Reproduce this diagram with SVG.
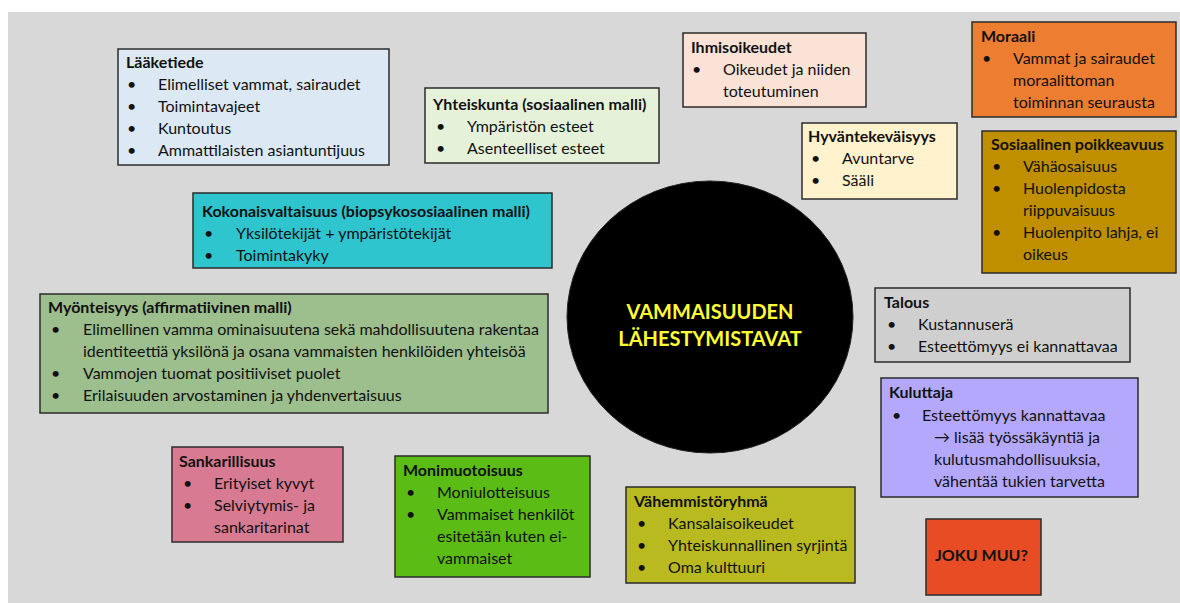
<svg xmlns="http://www.w3.org/2000/svg" width="1180" height="603" viewBox="0 0 1180 603">
<style>
text{font-family:Lato,"Liberation Sans",sans-serif;font-size:16px;fill:#111}
.t{font-weight:bold}
.box{stroke:#2b2b2b;stroke-width:1.5}
.c{font-weight:bold;font-size:20px;fill:#ffff33;text-anchor:middle}
</style>
<rect x="0" y="0" width="1180" height="603" fill="#ffffff"/>
<rect x="8" y="12" width="1172" height="591" fill="#d8d8d8"/>
<g id="connectors"></g>
<g id="laaketiede">
<rect class="box" x="118" y="49" width="271" height="116" fill="#dce9f5"/>
<text class="t" x="126" y="68">Lääketiede</text>
<text x="127" y="90">•</text><text x="158" y="90">Elimelliset vammat, sairaudet</text>
<text x="127" y="112">•</text><text x="158" y="112">Toimintavajeet</text>
<text x="127" y="134">•</text><text x="158" y="134">Kuntoutus</text>
<text x="127" y="156">•</text><text x="158" y="156">Ammattilaisten asiantuntijuus</text>
</g>
<g id="yhteiskunta">
<rect class="box" x="425" y="88" width="234" height="75" fill="#e6f1da"/>
<text class="t" x="433" y="110">Yhteiskunta (sosiaalinen malli)</text>
<text x="436" y="132">•</text><text x="467" y="132">Ympäristön esteet</text>
<text x="436" y="154">•</text><text x="467" y="154">Asenteelliset esteet</text>
</g>
<g id="ihmisoikeudet">
<rect class="box" x="683" y="33" width="183" height="74" fill="#fae2d6"/>
<text class="t" x="691" y="53">Ihmisoikeudet</text>
<text x="692" y="75">•</text><text x="723" y="75">Oikeudet ja niiden</text>
<text x="723" y="97">toteutuminen</text>
</g>
<g id="moraali">
<rect class="box" x="972" y="22" width="204" height="95" fill="#ed7d31"/>
<text class="t" x="981" y="42">Moraali</text>
<text x="982" y="64">•</text><text x="1013" y="64">Vammat ja sairaudet</text>
<text x="1013" y="86">moraalittoman</text>
<text x="1013" y="108">toiminnan seurausta</text>
</g>
<g id="hyvantekevaisyys">
<rect class="box" x="802" y="123" width="155" height="76" fill="#fff2cc"/>
<text class="t" x="808" y="142">Hyväntekeväisyys</text>
<text x="811" y="164">•</text><text x="842" y="164">Avuntarve</text>
<text x="811" y="186">•</text><text x="842" y="186">Sääli</text>
</g>
<g id="sosiaalinen-poikkeavuus">
<rect class="box" x="982" y="131" width="194" height="142" fill="#bf8f00"/>
<text class="t" x="991" y="150">Sosiaalinen poikkeavuus</text>
<text x="992" y="172">•</text><text x="1023" y="172">Vähäosaisuus</text>
<text x="992" y="194">•</text><text x="1023" y="194">Huolenpidosta</text>
<text x="1023" y="216">riippuvaisuus</text>
<text x="992" y="238">•</text><text x="1023" y="238">Huolenpito lahja, ei</text>
<text x="1023" y="260">oikeus</text>
</g>
<g id="kokonaisvaltaisuus">
<rect class="box" x="193" y="193" width="359" height="75" fill="#2ec5ce"/>
<text class="t" x="202" y="217">Kokonaisvaltaisuus (biopsykososiaalinen malli)</text>
<text x="204" y="239">•</text><text x="236" y="239">Yksilötekijät + ympäristötekijät</text>
<text x="204" y="261">•</text><text x="236" y="261">Toimintakyky</text>
</g>
<g id="myonteisyys">
<rect class="box" x="40" y="294" width="508" height="119" fill="#9dbe8d"/>
<text class="t" x="48" y="313">Myönteisyys (affirmatiivinen malli)</text>
<text x="51" y="335">•</text><text x="83" y="335">Elimellinen vamma ominaisuutena sekä mahdollisuutena rakentaa</text>
<text x="83" y="357">identiteettiä yksilönä ja osana vammaisten henkilöiden yhteisöä</text>
<text x="51" y="379">•</text><text x="83" y="379">Vammojen tuomat positiiviset puolet</text>
<text x="51" y="401">•</text><text x="83" y="401">Erilaisuuden arvostaminen ja yhdenvertaisuus</text>
</g>
<g id="keskus">
<ellipse cx="710" cy="317" rx="143" ry="136" fill="#000000" stroke="#222" stroke-width="1"/>
<text class="c" x="710" y="319">VAMMAISUUDEN</text>
<text class="c" x="710" y="346">LÄHESTYMISTAVAT</text>
</g>
<g id="talous">
<rect class="box" x="875" y="288" width="255" height="74" fill="#cfcfcf"/>
<text class="t" x="884" y="308">Talous</text>
<text x="887" y="330">•</text><text x="918" y="330">Kustannuserä</text>
<text x="887" y="352">•</text><text x="918" y="352">Esteettömyys ei kannattavaa</text>
</g>
<g id="kuluttaja">
<rect class="box" x="881" y="378" width="257" height="119" fill="#b4a8fd"/>
<text class="t" x="889" y="398">Kuluttaja</text>
<text x="892" y="421">•</text><text x="922" y="421">Esteettömyys kannattavaa</text>
<text x="934" y="443">→ lisää työssäkäyntiä ja</text>
<text x="934" y="465">kulutusmahdollisuuksia,</text>
<text x="934" y="487">vähentää tukien tarvetta</text>
</g>
<g id="sankarillisuus">
<rect class="box" x="172" y="447" width="171" height="95" fill="#d87b92"/>
<text class="t" x="179" y="467">Sankarillisuus</text>
<text x="183" y="489">•</text><text x="214" y="489">Erityiset kyvyt</text>
<text x="183" y="511">•</text><text x="214" y="511">Selviytymis- ja</text>
<text x="214" y="533">sankaritarinat</text>
</g>
<g id="monimuotoisuus">
<rect class="box" x="395" y="456" width="195" height="121" fill="#5cbc16"/>
<text class="t" x="403" y="476">Monimuotoisuus</text>
<text x="406" y="498">•</text><text x="437" y="498">Moniulotteisuus</text>
<text x="406" y="520">•</text><text x="437" y="520">Vammaiset henkilöt</text>
<text x="437" y="542">esitetään kuten ei-</text>
<text x="437" y="564">vammaiset</text>
</g>
<g id="vahemmistoryhma">
<rect class="box" x="626" y="487" width="229" height="96" fill="#b9ba1f"/>
<text class="t" x="634" y="507">Vähemmistöryhmä</text>
<text x="637" y="529">•</text><text x="668" y="529">Kansalaisoikeudet</text>
<text x="637" y="551">•</text><text x="668" y="551">Yhteiskunnallinen syrjintä</text>
<text x="637" y="573">•</text><text x="668" y="573">Oma kulttuuri</text>
</g>
<g id="joku-muu">
<rect class="box" x="926" y="519" width="115" height="76" fill="#e84c24"/>
<text class="t" x="935" y="561">JOKU MUU?</text>
</g>
</svg>
